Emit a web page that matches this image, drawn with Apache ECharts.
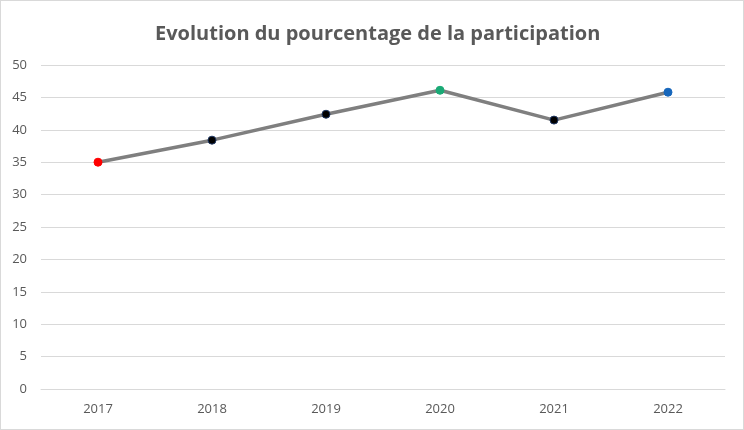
<!DOCTYPE html>
<html>
<head>
<meta charset="utf-8">
<script src="https://cdn.jsdelivr.net/npm/echarts@6/dist/echarts.min.js"></script>
<style>
html,body{margin:0;padding:0;background:#fff;}
#c{width:742px;height:428px;border:1px solid #d9d9d9;}
</style>
</head>
<body>
<div id="c"></div>
<script>
const titleText = 'Evolution du pourcentage de la participation';
const categories = ['2017', '2018', '2019', '2020', '2021', '2022'];
const values = [35.0, 38.4, 42.4, 46.1, 41.5, 45.8];
const pointColors = ['#ff0000', '#000000', '#000000', '#1aaa76', '#000000', '#1666bb'];
const pointBorders = ['#ff0000', '#203864', '#203864', '#1aaa76', '#203864', '#1666bb'];

const chart = echarts.init(document.getElementById('c'));
chart.setOption({
  animation: false,
  title: {
    text: titleText,
    left: 149,
    top: 18,
    textStyle: { fontFamily: 'Open Sans', fontWeight: 'bold', fontSize: 20, color: '#595959' }
  },
  grid: { left: 40, right: 18, top: 64, bottom: 40 },
  xAxis: {
    type: 'category',
    data: categories,
    boundaryGap: true,
    axisLine: { show: true, lineStyle: { color: '#d9d9d9' } },
    axisTick: { show: false },
    axisLabel: { color: '#595959', fontSize: 13, fontFamily: 'Open Sans', margin: 14 }
  },
  yAxis: {
    type: 'value',
    min: 0, max: 50, interval: 5,
    axisLine: { show: false },
    axisTick: { show: false },
    splitLine: { lineStyle: { color: '#d9d9d9' } },
    axisLabel: { color: '#595959', fontSize: 13, fontFamily: 'Open Sans', margin: 14 }
  },
  series: [{
    type: 'line',
    data: values.map((v, i) => ({
      value: v,
      itemStyle: { color: pointColors[i], borderColor: pointBorders[i], borderWidth: 1 }
    })),
    symbol: 'circle',
    symbolSize: 8,
    lineStyle: { color: '#7f7f7f', width: 3.5 },
    z: 3
  }]
});
</script>
</body>
</html>
